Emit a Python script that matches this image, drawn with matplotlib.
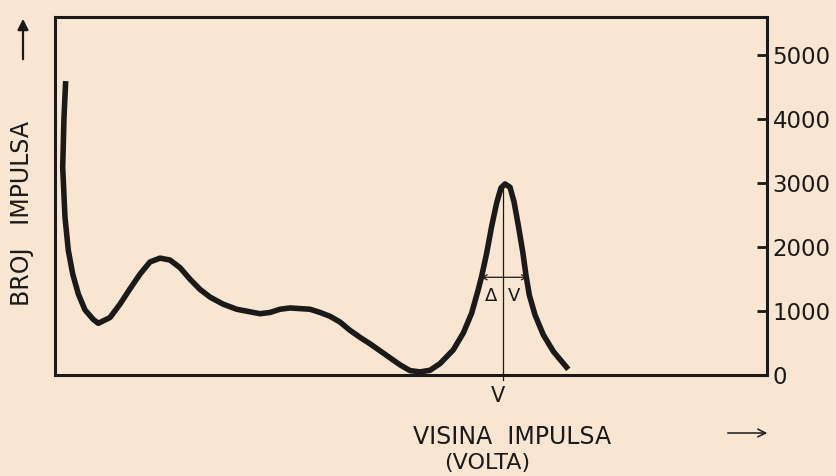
import matplotlib.pyplot as plt
from matplotlib.patches import FancyArrowPatch

# pulse height (arbitrary volt units) and counts
volts = [1.50, 1.26, 1.08, 1.40, 1.87, 2.49, 3.27, 4.21, 5.38, 6.08, 7.72, 9.13,
         10.53, 11.94, 13.34, 14.75, 16.15, 17.56, 18.96, 20.37, 21.77, 23.60,
         25.52, 27.39, 28.79, 30.20, 31.60, 33.01, 34.41, 35.81, 37.22, 38.62,
         40.03, 41.43, 42.84, 44.24, 45.65, 47.05, 48.46, 49.86, 51.26, 52.67,
         54.07, 55.94, 57.35, 58.52, 59.45, 59.93, 60.63, 61.33, 62.04, 62.64,
         63.20, 63.90, 64.47, 65.07, 65.69, 66.15, 66.62, 67.42, 68.58, 69.99, 72.09]
counts = [4600, 4030, 3250, 2470, 1950, 1580, 1270, 1020, 870, 810, 900, 1110,
          1350, 1580, 1770, 1830, 1800, 1680, 1500, 1340, 1220, 1110,
          1030, 990, 960, 980, 1030, 1050, 1040, 1030, 980, 920,
          830, 700, 590, 490, 380, 270, 160, 70, 50, 75,
          180, 395, 660, 970, 1340, 1550, 1910, 2330, 2700, 2930,
          2990, 2940, 2710, 2340, 1930, 1560, 1250, 940, 630, 370, 90]
yticks = [0, 1000, 2000, 3000, 4000, 5000]

peak_v = 62.9
half_left, half_right, half_h = 59.8, 66.4, 1530

paper = '#f8e6d2'
ink = '#1c1a18'

fig = plt.figure(figsize=(8.36, 4.76), dpi=100, facecolor=paper)
ax = fig.add_axes([0.0658, 0.212, 0.8517, 0.752])
ax.set_facecolor(paper)

ax.plot(volts, counts, color=ink, lw=4.0, solid_capstyle='butt', solid_joinstyle='round')

# peak marker line and half-width arrow
ax.plot([peak_v, peak_v], [2990, -80], color=ink, lw=0.9, clip_on=False)
ax.annotate('', xy=(half_left, half_h), xytext=(half_right, half_h),
            arrowprops=dict(arrowstyle='<->', color=ink, lw=0.9, mutation_scale=9,
                            shrinkA=0, shrinkB=0))
ax.text(61.3, 1240, 'Δ', fontsize=13, color=ink, ha='center', va='center')
ax.text(64.4, 1240, 'V', fontsize=13, color=ink, ha='center', va='center')
ax.text(62.2, -330, 'V', fontsize=15, color=ink, ha='center', va='center')

ax.set_xlim(0, 100)
ax.set_ylim(0, 5600)
ax.set_xticks([])
ax.yaxis.tick_right()
ax.set_yticks(yticks)
ax.set_yticklabels([str(t) for t in yticks])
ax.tick_params(axis='y', direction='in', length=7, width=2, color=ink,
               labelsize=16.5, labelcolor=ink, pad=4)
for s in ax.spines.values():
    s.set_linewidth(2.2)
    s.set_color(ink)

fig.text(512 / 836, 1 - 437 / 476, 'VISINA  IMPULSA', fontsize=17, color=ink,
         ha='center', va='center')
fig.text(487 / 836, 1 - 463 / 476, '(VOLTA)', fontsize=16, color=ink,
         ha='center', va='center')
fig.text(22 / 836, 1 - 213 / 476, 'BROJ   IMPULSA', fontsize=17, color=ink,
         ha='center', va='center', rotation=90)

# direction arrows
fig.patches.append(FancyArrowPatch(
    (725 / 836, 1 - 433 / 476), (770 / 836, 1 - 433 / 476), transform=fig.transFigure,
    arrowstyle='->', mutation_scale=14, color=ink, lw=1.1))
fig.patches.append(FancyArrowPatch(
    (23 / 836, 1 - 62 / 476), (23 / 836, 1 - 16 / 476), transform=fig.transFigure,
    arrowstyle='-|>', mutation_scale=16, color=ink, lw=1.6))

fig.savefig('out.png', dpi=100, facecolor=paper)
